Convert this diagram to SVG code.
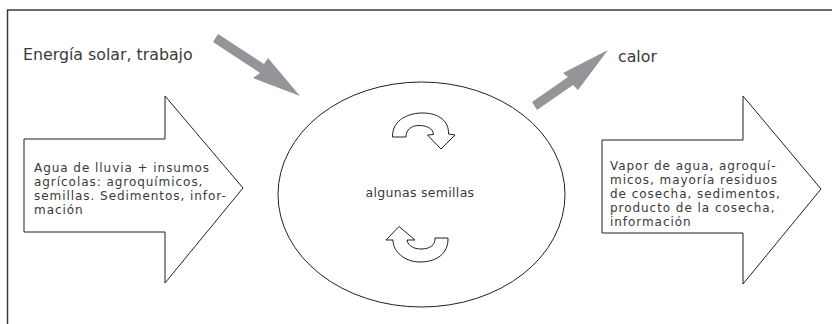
<svg xmlns="http://www.w3.org/2000/svg" width="832" height="324" viewBox="0 0 832 324">
<style>
.frame{fill:none;stroke:#3a3a3a;stroke-width:1.5}
.outline{fill:#fff;stroke:#231f20;stroke-width:1}
.gray{fill:#939598;stroke:none}
.t{font-family:"DejaVu Sans","Liberation Sans",sans-serif;fill:#3a3a3a}
.big{font-size:15.8px}
.small{font-size:12px;letter-spacing:0.95px}
.mid{font-size:12.5px;letter-spacing:0.3px}
</style>
<rect width="832" height="324" fill="#fff"/>
<path class="frame" d="M832,10 H7.5 V324"/>
<g id="connectors">
<polygon class="gray" points="218,34 264,64 268,58 300,96 253,78 260,73 213,42"/>
<polygon class="gray" points="532,102 568,77 563,73 608,50 578,90 573,85 537,110"/>
</g>
<g id="label-energia">
<text class="t big" x="23" y="60">Energía solar, trabajo</text>
</g>
<g id="label-calor">
<text class="t big" x="618" y="62">calor</text>
</g>
<g id="input-arrow">
<polygon class="outline" points="24,139 165,139 165,96 243,188 165,283 165,232 24,232"/>
<text class="t small"><tspan x="34" y="172">Agua de lluvia + insumos</tspan><tspan x="34" y="186">agrícolas: agroquímicos,</tspan><tspan x="34" y="200">semillas. Sedimentos, infor-</tspan><tspan x="34" y="214">mación</tspan></text>
</g>
<g id="system">
<ellipse class="outline" cx="421.5" cy="194.5" rx="143.5" ry="112.5"/>
<text class="t mid" x="420" y="197" text-anchor="middle">algunas semillas</text>
<path class="outline" d="M392.5,137 C392,119 410,112.5 424,113 C439,113.5 449,121 448.5,134 L455,135 L441,149 L427.5,135 L433.5,134.5 C433,128 426,125.5 419,125.5 C411,125.5 406,130 406,137 Z"/>
<path class="outline" d="M448,238 C448.5,254 436,262 420,262 C405,262 393,252 393,240 L386,240 L399,226.5 L415,240 L407,240 C408,246 414,249 421,249 C430,249 435.5,245 435,238 Z"/>
</g>
<g id="output-arrow">
<polygon class="outline" points="602,140 743,140 743,96 821,189 743,284 743,233 602,233"/>
<text class="t small"><tspan x="610" y="169.5">Vapor de agua, agroquí-</tspan><tspan x="610" y="183.5">micos, mayoría residuos</tspan><tspan x="610" y="197.5">de cosecha, sedimentos,</tspan><tspan x="610" y="211.5">producto de la cosecha,</tspan><tspan x="610" y="225.5">información</tspan></text>
</g>
</svg>
